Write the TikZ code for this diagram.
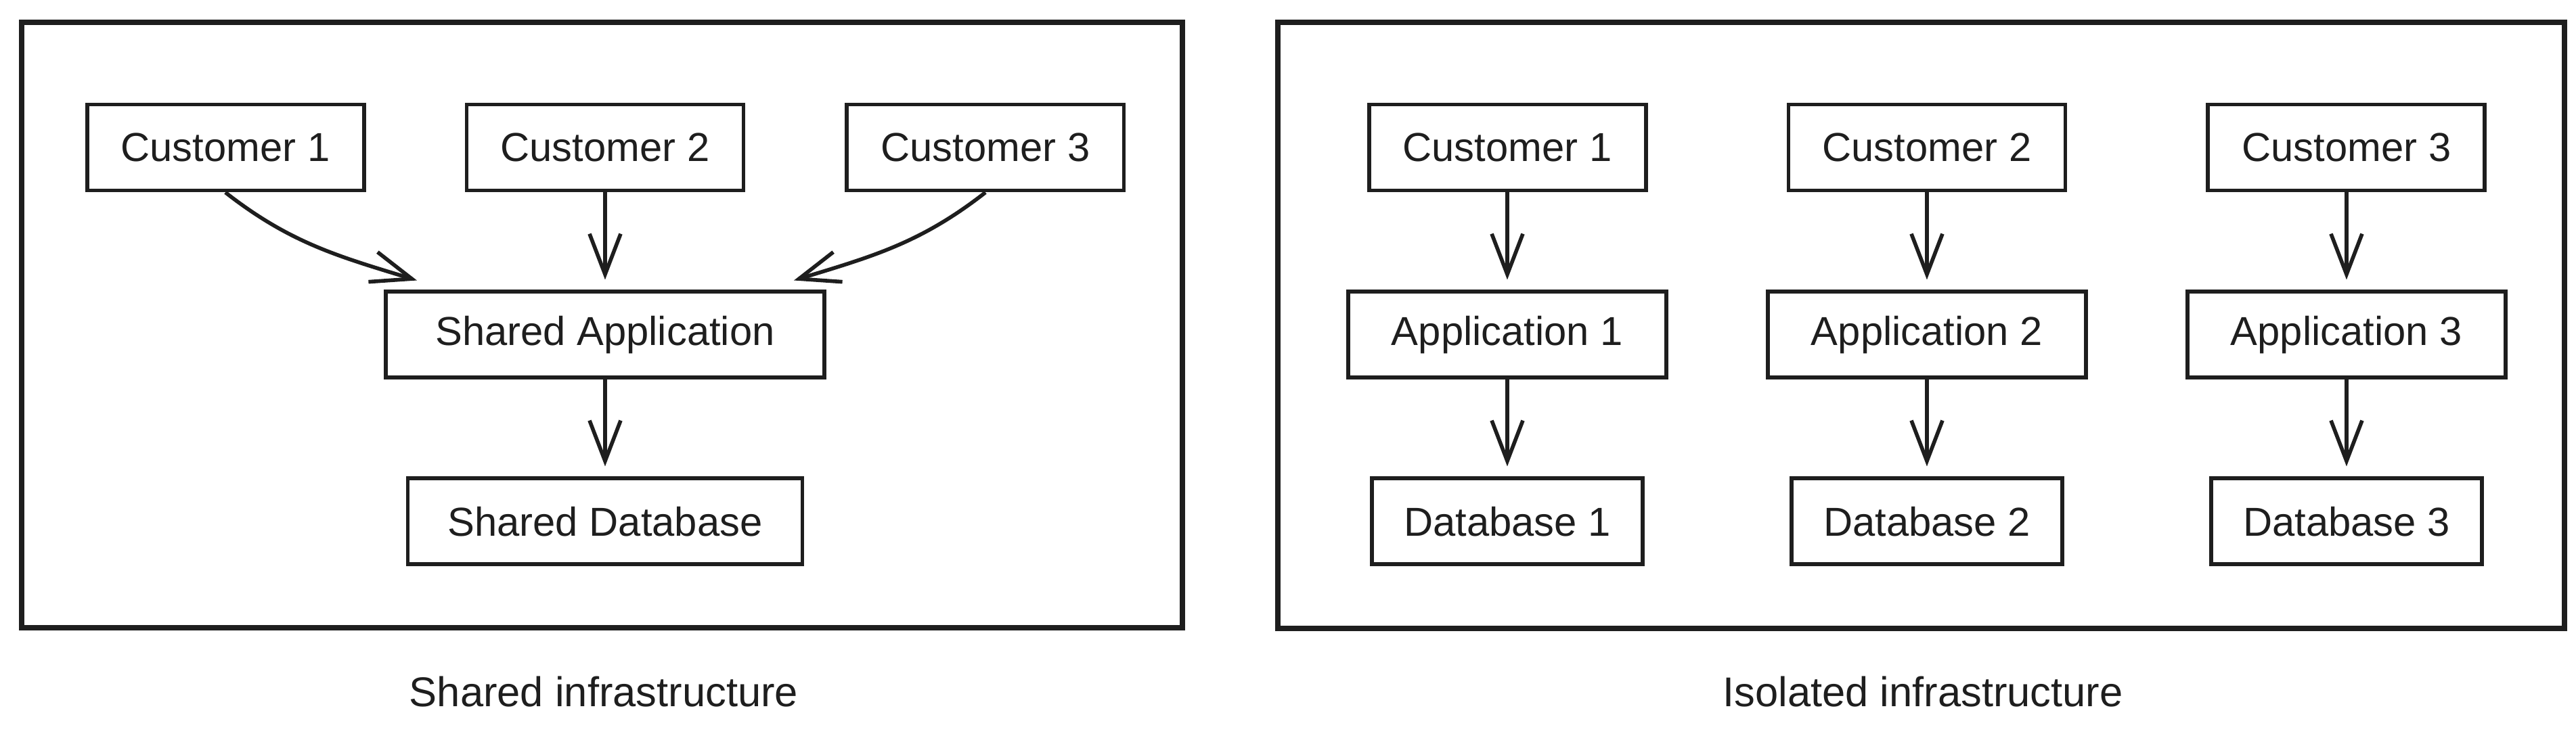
\documentclass[tikz,border=0pt]{standalone}
\usepackage{fontspec}
\setmainfont{Liberation Sans}
\usepackage{tikz}
\usetikzlibrary{positioning, arrows.meta}
\definecolor{ink}{RGB}{30, 30, 30}

\begin{document}
\begin{tikzpicture}[
        box/.style={rectangle, draw=ink, line width=1.7pt, minimum width=#1, minimum height=1.27cm, inner sep=0pt, text=ink, text centered, font=\fontsize{17}{20}\selectfont},
        box/.default=4.09cm,
        flow/.style={draw=ink, line width=1.6pt, -{Straight Barb[length=6mm, width=4.6mm, line width=1.6pt]}, shorten >=1.5mm},
        frame/.style={draw=ink, line width=2.3pt},
        caption/.style={text=ink, font=\fontsize{17.5}{20}\selectfont}
    ]
        \useasboundingbox (0,0) rectangle (38.06,10.9);

        % shared infrastructure
        \draw[frame] (0.32,1.62) rectangle (17.47,10.57);
        \node (scust2) [box] at (8.94,8.72) {Customer 2};
        \node (scust1) [box, left=1.46cm of scust2] {Customer 1};
        \node (scust3) [box, right=1.47cm of scust2] {Customer 3};
        \node (sapp) [box=6.48cm, below=1.44cm of scust2] {Shared Application};
        \node (sdb) [box=5.83cm, below=1.43cm of sapp] {Shared Database};

        \draw[flow, shorten >=0pt] (scust1.south) to[out=-38, in=163] ([xshift=4.9mm, yshift=1.4mm]sapp.north west);
        \draw[flow] (scust2) -- (sapp);
        \draw[flow, shorten >=0pt] (scust3.south) to[out=-142, in=17] ([xshift=-4.8mm, yshift=1.4mm]sapp.north east);
        \draw[flow] (sapp) -- (sdb);

        \node (scap) [caption] at (8.92,0.67) {Shared infrastructure};

        % isolated infrastructure
        \draw[frame] (18.88,1.61) rectangle (37.89,10.57);
        \node (icust1) [box] at (22.27,8.72) {Customer 1};
        \node (icust2) [box, right=2.05cm of icust1] {Customer 2};
        \node (icust3) [box, right=2.05cm of icust2] {Customer 3};
        \node (iapp1) [box=4.70cm, below=1.44cm of icust1] {Application 1};
        \node (iapp2) [box=4.70cm, below=1.44cm of icust2] {Application 2};
        \node (iapp3) [box=4.70cm, below=1.44cm of icust3] {Application 3};
        \node (idb1) [box=4.00cm, below=1.43cm of iapp1] {Database 1};
        \node (idb2) [box=4.00cm, below=1.43cm of iapp2] {Database 2};
        \node (idb3) [box=4.00cm, below=1.43cm of iapp3] {Database 3};

        \draw[flow] (icust1) -- (iapp1);
        \draw[flow] (icust2) -- (iapp2);
        \draw[flow] (icust3) -- (iapp3);
        \draw[flow] (iapp1) -- (idb1);
        \draw[flow] (iapp2) -- (idb2);
        \draw[flow] (iapp3) -- (idb3);

        \node (icap) [caption] at (28.41,0.67) {Isolated infrastructure};
    \end{tikzpicture}
\end{document}
